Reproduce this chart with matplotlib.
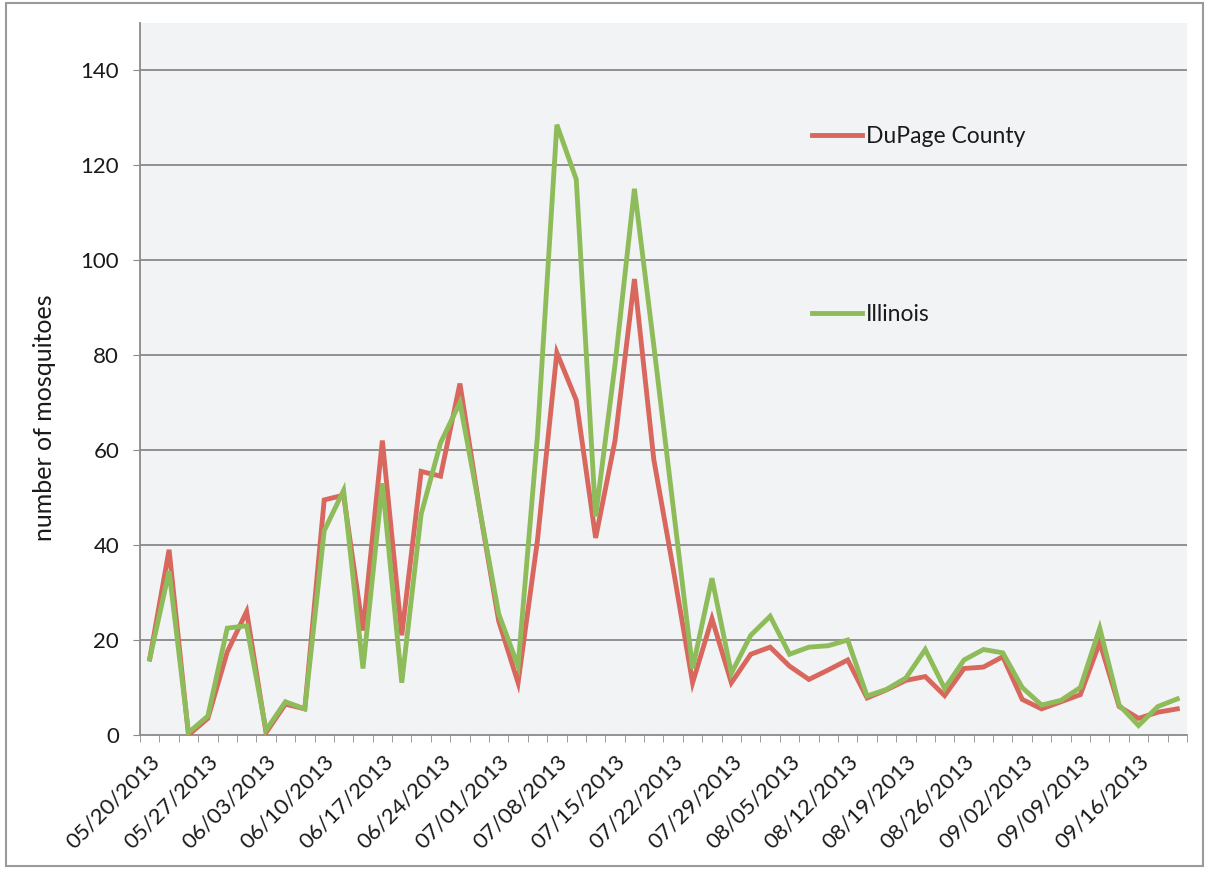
#!/usr/bin/env python3
"""
Mosquito counts per collection date: DuPage County vs Illinois (2013)
"""

import numpy as np
import matplotlib.pyplot as plt
from matplotlib.lines import Line2D
from matplotlib.patches import Rectangle

# weekly labels (one every third collection)
semanas = ["05/20/2013", "05/27/2013", "06/03/2013", "06/10/2013", "06/17/2013",
           "06/24/2013", "07/01/2013", "07/08/2013", "07/15/2013", "07/22/2013",
           "07/29/2013", "08/05/2013", "08/12/2013", "08/19/2013", "08/26/2013",
           "09/02/2013", "09/09/2013", "09/16/2013"]

dupage = [16, 39, 0, 3.5, 17.5, 26, 0.5, 6.5, 5.5, 49.5,
          50.5, 22, 62, 21, 55.5, 54.5, 74, 48, 24, 11,
          41, 80.5, 70.5, 41.5, 62, 96, 58, 35, 11, 24.5,
          11, 17, 18.5, 14.5, 11.7, 13.7, 15.8, 7.8, 9.5, 11.5,
          12.3, 8.3, 14, 14.3, 16.5, 7.5, 5.5, 7, 8.5, 19.5,
          6, 3.5, 4.8, 5.5]

illinois = [16, 34.5, 0.5, 4, 22.5, 23, 1, 7, 5.5, 43,
            51.5, 14, 53, 11, 46.5, 61.5, 70, 48, 25.5, 14.5,
            63, 128.5, 117, 46, 78, 115, 82, 48, 14, 33,
            13, 21, 25, 17, 18.5, 18.8, 20, 8.2, 9.6, 12,
            18, 9.8, 15.8, 18, 17.3, 10, 6.3, 7.3, 10, 22.5,
            6.3, 2, 6, 7.6]

plt.rcParams['font.family'] = ['Lato', 'DejaVu Sans']

x = np.arange(len(dupage))

fig = plt.figure(figsize=(12.09, 8.69), dpi=100, facecolor='white')
ax = fig.add_axes([0.1158, 0.1542, 0.866, 0.8198])
ax.set_facecolor('#f2f3f5')

rojo = '#d8675e'
verde = '#8fbc5a'
ax.plot(x, dupage, color=rojo, linewidth=3.5, solid_joinstyle='miter', zorder=3)
ax.plot(x, illinois, color=verde, linewidth=3.5, solid_joinstyle='miter', zorder=4)

ax.set_xlim(-0.5, len(x) - 0.5)
ax.set_ylim(0, 150)

# horizontal grid
ax.set_yticks(np.arange(0, 141, 20))
for v in range(20, 141, 20):
    ax.axhline(v, color='#7f7f7f', linewidth=1.2, zorder=1)

# category ticks between points, labels every third point
ax.set_xticks(np.arange(-0.5, len(x), 1), minor=True)
ax.set_xticks(np.arange(0, len(x), 3))
ax.set_xticklabels(semanas, rotation=45, ha='right', rotation_mode='anchor')
ax.tick_params(axis='x', which='major', length=0, pad=12, labelsize=16,
               labelcolor='#1a1a1a')
ax.tick_params(axis='x', which='minor', length=5, color='#8a8a8a', direction='out')
ax.tick_params(axis='y', length=5, color='#8a8a8a', pad=10, labelsize=16,
               labelcolor='#1a1a1a')

for lado in ['top', 'right']:
    ax.spines[lado].set_visible(False)
for lado in ['left', 'bottom']:
    ax.spines[lado].set_color('#8a8a8a')
    ax.spines[lado].set_linewidth(1.3)

ax.set_ylabel('number of mosquitoes', fontsize=18, color='#1a1a1a')
ax.yaxis.set_label_coords(-0.08, 0.445)

handles = [Line2D([], [], color=rojo, linewidth=3.5),
           Line2D([], [], color=verde, linewidth=3.5)]
ax.legend(handles, ['DuPage County', 'Illinois'], frameon=False, fontsize=16.5,
          loc='upper left', bbox_to_anchor=(0.622, 0.884), handlelength=2.2,
          handletextpad=0.17, labelspacing=6.85, labelcolor='#1a1a1a')

# chart border
fig.patches.append(Rectangle((0.005, 0.003), 0.99, 0.993, transform=fig.transFigure,
                             fill=False, edgecolor='#9a9a9a', linewidth=1.5))

plt.savefig("out.png", dpi=100)
plt.close()
